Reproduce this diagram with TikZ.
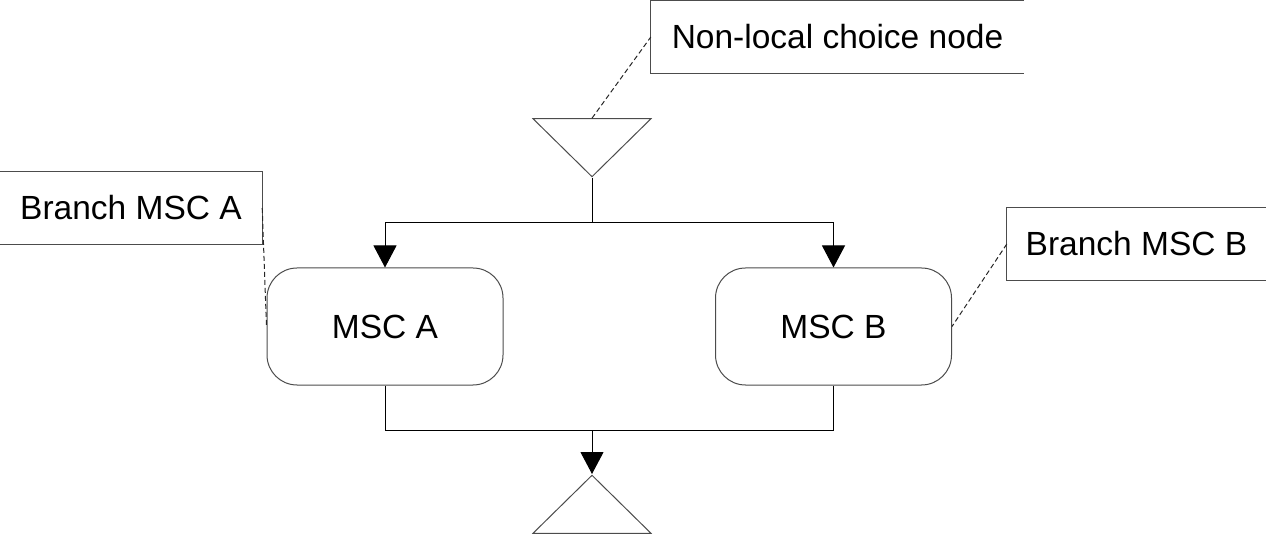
\documentclass[tikz,border=0pt]{standalone}
\usepackage{fontspec}
\setmainfont{Liberation Sans}
\usetikzlibrary{shapes.geometric,arrows.meta}
\begin{document}
\begin{tikzpicture}[x=1pt,y=-1pt,
  shapeline/.style={draw=black!70,line width=1pt},
  choicetri/.style={shapeline,isosceles triangle,isosceles triangle stretches,
    minimum width=118pt,minimum height=58pt,inner sep=0pt},
  mscbox/.style={shapeline,rectangle,rounded corners=30pt,minimum width=236pt,
    minimum height=117pt,font=\fontsize{33.5}{40}\selectfont},
  commentbox/.style={rectangle,minimum height=72pt,inner sep=0pt,
    font=\fontsize{33.5}{40}\selectfont},
  flow/.style={draw=black,line width=1pt},
  flowarrow/.style={flow,-{Triangle[width=23pt,length=22pt]}},
  commentlink/.style={draw=black!85,line width=1pt,dash pattern=on 5pt off 3pt}
]
\useasboundingbox (0,0) rectangle (1266,534);
% choice nodes
\node[choicetri,shape border rotate=270,anchor=apex] (top) at (592,178) {};
\node[choicetri,shape border rotate=90,anchor=apex] (bot) at (592,474) {};
% MSC references
\node[mscbox] (mscA) at (385,326.5) {MSC A};
\node[mscbox] (mscB) at (833.5,326.5) {MSC B};
% branching coordinates
\coordinate (split) at (592,223);
\coordinate (join) at (592,430);
\draw[flow] (top.apex) -- (split);
\draw[flowarrow] (split) -| (mscA.north);
\draw[flowarrow] (split) -| (mscB.north);
\draw[flow] (mscA.south) |- (join);
\draw[flow] (mscB.south) |- (join);
\draw[flowarrow] (join) -- (bot.apex);
% comments
\node[commentbox,minimum width=373pt] (cnl) at (837.5,37) {Non-local choice node};
\draw[shapeline] (cnl.north east) -- (cnl.north west) -- (cnl.south west) -- (cnl.south east);
\node[commentbox,minimum width=262pt] (cA) at (131,208) {Branch MSC A};
\draw[shapeline] (cA.north west) -- (cA.north east) -- (cA.south east) -- (cA.south west);
\node[commentbox,minimum width=259pt] (cB) at (1136.5,244) {Branch MSC B};
\draw[shapeline] (cB.north east) -- (cB.north west) -- (cB.south west) -- (cB.south east);
% comment links
\draw[commentlink] (top.lower side) -- (cnl.west);
\draw[commentlink] (cA.east) -- (mscA.west);
\draw[commentlink] (cB.west) -- (mscB.east);
\end{tikzpicture}
\end{document}
